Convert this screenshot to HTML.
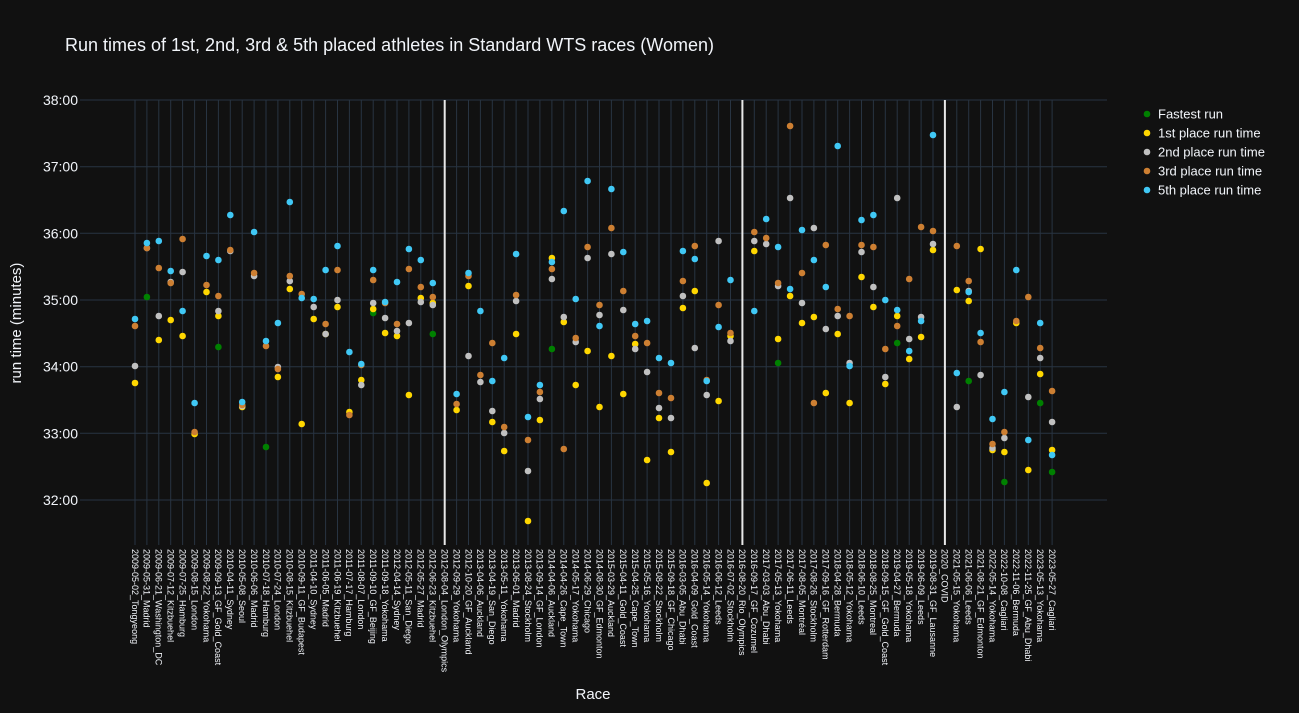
<!DOCTYPE html>
<html><head><meta charset="utf-8"><style>
html,body{margin:0;padding:0;background:#111111;}
svg{display:block;font-family:"Liberation Sans",sans-serif;}
.g circle{fill:#008000}.y circle{fill:#ffd700}.s circle{fill:#c0c0c0}.o circle{fill:#cd7f32}.b circle{fill:#40c8f5}
</style></head><body>
<svg width="1299" height="713" viewBox="0 0 1299 713" xmlns="http://www.w3.org/2000/svg">
<rect width="1299" height="713" fill="#111111"/>
<text x="65" y="51" fill="#f2f5fa" font-size="18">Run times of 1st, 2nd, 3rd &amp; 5th placed athletes in Standard WTS races (Women)</text>
<g stroke="#283442" stroke-width="1">
<line x1="80" x2="1107" y1="100" y2="100"/><line x1="80" x2="1107" y1="166.7" y2="166.7"/><line x1="80" x2="1107" y1="233.3" y2="233.3"/><line x1="80" x2="1107" y1="300" y2="300"/><line x1="80" x2="1107" y1="366.7" y2="366.7"/><line x1="80" x2="1107" y1="433.3" y2="433.3"/><line x1="80" x2="1107" y1="500" y2="500"/>
</g>
<g stroke="#283442" stroke-width="1" id="vg">
<line x1="135" x2="135" y1="100" y2="545"/><line x1="146.9" x2="146.9" y1="100" y2="545"/><line x1="158.8" x2="158.8" y1="100" y2="545"/><line x1="170.7" x2="170.7" y1="100" y2="545"/><line x1="182.6" x2="182.6" y1="100" y2="545"/><line x1="194.6" x2="194.6" y1="100" y2="545"/><line x1="206.5" x2="206.5" y1="100" y2="545"/><line x1="218.4" x2="218.4" y1="100" y2="545"/><line x1="230.3" x2="230.3" y1="100" y2="545"/><line x1="242.2" x2="242.2" y1="100" y2="545"/><line x1="254.1" x2="254.1" y1="100" y2="545"/><line x1="266" x2="266" y1="100" y2="545"/><line x1="277.9" x2="277.9" y1="100" y2="545"/><line x1="289.8" x2="289.8" y1="100" y2="545"/><line x1="301.7" x2="301.7" y1="100" y2="545"/><line x1="313.7" x2="313.7" y1="100" y2="545"/><line x1="325.6" x2="325.6" y1="100" y2="545"/><line x1="337.5" x2="337.5" y1="100" y2="545"/><line x1="349.4" x2="349.4" y1="100" y2="545"/><line x1="361.3" x2="361.3" y1="100" y2="545"/><line x1="373.2" x2="373.2" y1="100" y2="545"/><line x1="385.1" x2="385.1" y1="100" y2="545"/><line x1="397" x2="397" y1="100" y2="545"/><line x1="408.9" x2="408.9" y1="100" y2="545"/><line x1="420.8" x2="420.8" y1="100" y2="545"/><line x1="432.8" x2="432.8" y1="100" y2="545"/><line x1="456.6" x2="456.6" y1="100" y2="545"/><line x1="468.5" x2="468.5" y1="100" y2="545"/><line x1="480.4" x2="480.4" y1="100" y2="545"/><line x1="492.3" x2="492.3" y1="100" y2="545"/><line x1="504.2" x2="504.2" y1="100" y2="545"/><line x1="516.1" x2="516.1" y1="100" y2="545"/><line x1="528" x2="528" y1="100" y2="545"/><line x1="539.9" x2="539.9" y1="100" y2="545"/><line x1="551.9" x2="551.9" y1="100" y2="545"/><line x1="563.8" x2="563.8" y1="100" y2="545"/><line x1="575.7" x2="575.7" y1="100" y2="545"/><line x1="587.6" x2="587.6" y1="100" y2="545"/><line x1="599.5" x2="599.5" y1="100" y2="545"/><line x1="611.4" x2="611.4" y1="100" y2="545"/><line x1="623.3" x2="623.3" y1="100" y2="545"/><line x1="635.2" x2="635.2" y1="100" y2="545"/><line x1="647.1" x2="647.1" y1="100" y2="545"/><line x1="659" x2="659" y1="100" y2="545"/><line x1="671" x2="671" y1="100" y2="545"/><line x1="682.9" x2="682.9" y1="100" y2="545"/><line x1="694.8" x2="694.8" y1="100" y2="545"/><line x1="706.7" x2="706.7" y1="100" y2="545"/><line x1="718.6" x2="718.6" y1="100" y2="545"/><line x1="730.5" x2="730.5" y1="100" y2="545"/><line x1="754.3" x2="754.3" y1="100" y2="545"/><line x1="766.2" x2="766.2" y1="100" y2="545"/><line x1="778.1" x2="778.1" y1="100" y2="545"/><line x1="790.1" x2="790.1" y1="100" y2="545"/><line x1="802" x2="802" y1="100" y2="545"/><line x1="813.9" x2="813.9" y1="100" y2="545"/><line x1="825.8" x2="825.8" y1="100" y2="545"/><line x1="837.7" x2="837.7" y1="100" y2="545"/><line x1="849.6" x2="849.6" y1="100" y2="545"/><line x1="861.5" x2="861.5" y1="100" y2="545"/><line x1="873.4" x2="873.4" y1="100" y2="545"/><line x1="885.3" x2="885.3" y1="100" y2="545"/><line x1="897.2" x2="897.2" y1="100" y2="545"/><line x1="909.2" x2="909.2" y1="100" y2="545"/><line x1="921.1" x2="921.1" y1="100" y2="545"/><line x1="933" x2="933" y1="100" y2="545"/><line x1="956.8" x2="956.8" y1="100" y2="545"/><line x1="968.7" x2="968.7" y1="100" y2="545"/><line x1="980.6" x2="980.6" y1="100" y2="545"/><line x1="992.5" x2="992.5" y1="100" y2="545"/><line x1="1004.4" x2="1004.4" y1="100" y2="545"/><line x1="1016.3" x2="1016.3" y1="100" y2="545"/><line x1="1028.3" x2="1028.3" y1="100" y2="545"/><line x1="1040.2" x2="1040.2" y1="100" y2="545"/><line x1="1052.1" x2="1052.1" y1="100" y2="545"/>
</g>
<g stroke="#e8e8e8" stroke-width="2"><line x1="444.7" x2="444.7" y1="100" y2="545"/><line x1="742.4" x2="742.4" y1="100" y2="545"/><line x1="944.9" x2="944.9" y1="100" y2="545"/></g>
<g fill="#f2f5fa" font-size="14" text-anchor="end">
<text x="78" y="105">38:00</text><text x="78" y="171.7">37:00</text><text x="78" y="238.3">36:00</text><text x="78" y="305">35:00</text><text x="78" y="371.7">34:00</text><text x="78" y="438.3">33:00</text><text x="78" y="505">32:00</text>
</g>
<text transform="translate(21,323) rotate(-90)" fill="#f2f5fa" font-size="15" text-anchor="middle">run time (minutes)</text>
<text x="593" y="699" fill="#f2f5fa" font-size="15" text-anchor="middle">Race</text>
<g class="g" r="3.3">
<circle cx="146.9" cy="297" r="3.3"/><circle cx="218.4" cy="347" r="3.3"/><circle cx="266" cy="447" r="3.3"/><circle cx="373.2" cy="313" r="3.3"/><circle cx="432.8" cy="334" r="3.3"/><circle cx="551.9" cy="349" r="3.3"/><circle cx="778.1" cy="363" r="3.3"/><circle cx="897.2" cy="343" r="3.3"/><circle cx="968.7" cy="381" r="3.3"/><circle cx="1004.4" cy="482" r="3.3"/><circle cx="1040.2" cy="403" r="3.3"/><circle cx="1052.1" cy="472" r="3.3"/>
</g>
<g class="y">
<circle cx="135" cy="383" r="3.3"/><circle cx="158.8" cy="340" r="3.3"/><circle cx="170.7" cy="320" r="3.3"/><circle cx="182.6" cy="336" r="3.3"/><circle cx="194.6" cy="434" r="3.3"/><circle cx="206.5" cy="292" r="3.3"/><circle cx="218.4" cy="316" r="3.3"/><circle cx="242.2" cy="407" r="3.3"/><circle cx="277.9" cy="377" r="3.3"/><circle cx="289.8" cy="289" r="3.3"/><circle cx="301.7" cy="424" r="3.3"/><circle cx="313.7" cy="319" r="3.3"/><circle cx="325.6" cy="334" r="3.3"/><circle cx="337.5" cy="307" r="3.3"/><circle cx="349.4" cy="412" r="3.3"/><circle cx="361.3" cy="380" r="3.3"/><circle cx="373.2" cy="309" r="3.3"/><circle cx="385.1" cy="333" r="3.3"/><circle cx="397" cy="336" r="3.3"/><circle cx="408.9" cy="395" r="3.3"/><circle cx="420.8" cy="298" r="3.3"/><circle cx="432.8" cy="303" r="3.3"/><circle cx="456.6" cy="410" r="3.3"/><circle cx="468.5" cy="286" r="3.3"/><circle cx="492.3" cy="422" r="3.3"/><circle cx="504.2" cy="451" r="3.3"/><circle cx="516.1" cy="334" r="3.3"/><circle cx="528" cy="521" r="3.3"/><circle cx="539.9" cy="420" r="3.3"/><circle cx="551.9" cy="258" r="3.3"/><circle cx="563.8" cy="322" r="3.3"/><circle cx="575.7" cy="385" r="3.3"/><circle cx="587.6" cy="351" r="3.3"/><circle cx="599.5" cy="407" r="3.3"/><circle cx="611.4" cy="356" r="3.3"/><circle cx="623.3" cy="394" r="3.3"/><circle cx="635.2" cy="344" r="3.3"/><circle cx="647.1" cy="460" r="3.3"/><circle cx="659" cy="418" r="3.3"/><circle cx="671" cy="452" r="3.3"/><circle cx="682.9" cy="308" r="3.3"/><circle cx="694.8" cy="291" r="3.3"/><circle cx="706.7" cy="483" r="3.3"/><circle cx="718.6" cy="401" r="3.3"/><circle cx="730.5" cy="336" r="3.3"/><circle cx="754.3" cy="251" r="3.3"/><circle cx="778.1" cy="339" r="3.3"/><circle cx="790.1" cy="296" r="3.3"/><circle cx="802" cy="323" r="3.3"/><circle cx="813.9" cy="317" r="3.3"/><circle cx="825.8" cy="393" r="3.3"/><circle cx="837.7" cy="334" r="3.3"/><circle cx="849.6" cy="403" r="3.3"/><circle cx="861.5" cy="277" r="3.3"/><circle cx="873.4" cy="307" r="3.3"/><circle cx="885.3" cy="384" r="3.3"/><circle cx="897.2" cy="316" r="3.3"/><circle cx="909.2" cy="359" r="3.3"/><circle cx="921.1" cy="337" r="3.3"/><circle cx="933" cy="250" r="3.3"/><circle cx="956.8" cy="290" r="3.3"/><circle cx="968.7" cy="301" r="3.3"/><circle cx="980.6" cy="249" r="3.3"/><circle cx="992.5" cy="450" r="3.3"/><circle cx="1004.4" cy="452" r="3.3"/><circle cx="1016.3" cy="323" r="3.3"/><circle cx="1028.3" cy="470" r="3.3"/><circle cx="1040.2" cy="374" r="3.3"/><circle cx="1052.1" cy="450" r="3.3"/>
</g>
<g class="s">
<circle cx="135" cy="366" r="3.3"/><circle cx="146.9" cy="248" r="3.3"/><circle cx="158.8" cy="316" r="3.3"/><circle cx="170.7" cy="282" r="3.3"/><circle cx="182.6" cy="272" r="3.3"/><circle cx="218.4" cy="311" r="3.3"/><circle cx="230.3" cy="251" r="3.3"/><circle cx="242.2" cy="406" r="3.3"/><circle cx="254.1" cy="276" r="3.3"/><circle cx="277.9" cy="367" r="3.3"/><circle cx="289.8" cy="281" r="3.3"/><circle cx="313.7" cy="307" r="3.3"/><circle cx="325.6" cy="334" r="3.3"/><circle cx="337.5" cy="300" r="3.3"/><circle cx="361.3" cy="385" r="3.3"/><circle cx="373.2" cy="303" r="3.3"/><circle cx="385.1" cy="318" r="3.3"/><circle cx="397" cy="331" r="3.3"/><circle cx="408.9" cy="323" r="3.3"/><circle cx="420.8" cy="302" r="3.3"/><circle cx="432.8" cy="305" r="3.3"/><circle cx="468.5" cy="356" r="3.3"/><circle cx="480.4" cy="382" r="3.3"/><circle cx="492.3" cy="411" r="3.3"/><circle cx="504.2" cy="433" r="3.3"/><circle cx="516.1" cy="301" r="3.3"/><circle cx="528" cy="471" r="3.3"/><circle cx="539.9" cy="399" r="3.3"/><circle cx="551.9" cy="279" r="3.3"/><circle cx="563.8" cy="317" r="3.3"/><circle cx="575.7" cy="342" r="3.3"/><circle cx="587.6" cy="258" r="3.3"/><circle cx="599.5" cy="315" r="3.3"/><circle cx="611.4" cy="254" r="3.3"/><circle cx="623.3" cy="310" r="3.3"/><circle cx="635.2" cy="349" r="3.3"/><circle cx="647.1" cy="372" r="3.3"/><circle cx="659" cy="408" r="3.3"/><circle cx="671" cy="418" r="3.3"/><circle cx="682.9" cy="296" r="3.3"/><circle cx="694.8" cy="348" r="3.3"/><circle cx="706.7" cy="395" r="3.3"/><circle cx="718.6" cy="241" r="3.3"/><circle cx="730.5" cy="341" r="3.3"/><circle cx="754.3" cy="241" r="3.3"/><circle cx="766.2" cy="244" r="3.3"/><circle cx="778.1" cy="286" r="3.3"/><circle cx="790.1" cy="198" r="3.3"/><circle cx="802" cy="303" r="3.3"/><circle cx="813.9" cy="228" r="3.3"/><circle cx="825.8" cy="329" r="3.3"/><circle cx="837.7" cy="316" r="3.3"/><circle cx="849.6" cy="363" r="3.3"/><circle cx="861.5" cy="252" r="3.3"/><circle cx="873.4" cy="287" r="3.3"/><circle cx="885.3" cy="377" r="3.3"/><circle cx="897.2" cy="198" r="3.3"/><circle cx="909.2" cy="339" r="3.3"/><circle cx="921.1" cy="317" r="3.3"/><circle cx="933" cy="244" r="3.3"/><circle cx="956.8" cy="407" r="3.3"/><circle cx="968.7" cy="291" r="3.3"/><circle cx="980.6" cy="375" r="3.3"/><circle cx="992.5" cy="448" r="3.3"/><circle cx="1004.4" cy="438" r="3.3"/><circle cx="1028.3" cy="397" r="3.3"/><circle cx="1040.2" cy="358" r="3.3"/><circle cx="1052.1" cy="422" r="3.3"/>
</g>
<g class="o">
<circle cx="135" cy="326" r="3.3"/><circle cx="146.9" cy="248" r="3.3"/><circle cx="158.8" cy="268" r="3.3"/><circle cx="170.7" cy="283" r="3.3"/><circle cx="182.6" cy="239" r="3.3"/><circle cx="194.6" cy="432" r="3.3"/><circle cx="206.5" cy="285" r="3.3"/><circle cx="218.4" cy="296" r="3.3"/><circle cx="230.3" cy="250" r="3.3"/><circle cx="242.2" cy="405" r="3.3"/><circle cx="254.1" cy="273" r="3.3"/><circle cx="266" cy="346" r="3.3"/><circle cx="277.9" cy="369" r="3.3"/><circle cx="289.8" cy="276" r="3.3"/><circle cx="301.7" cy="294" r="3.3"/><circle cx="325.6" cy="324" r="3.3"/><circle cx="337.5" cy="270" r="3.3"/><circle cx="349.4" cy="415" r="3.3"/><circle cx="361.3" cy="365" r="3.3"/><circle cx="373.2" cy="280" r="3.3"/><circle cx="385.1" cy="303" r="3.3"/><circle cx="397" cy="324" r="3.3"/><circle cx="408.9" cy="269" r="3.3"/><circle cx="420.8" cy="287" r="3.3"/><circle cx="432.8" cy="297" r="3.3"/><circle cx="456.6" cy="404" r="3.3"/><circle cx="468.5" cy="276" r="3.3"/><circle cx="480.4" cy="375" r="3.3"/><circle cx="492.3" cy="343" r="3.3"/><circle cx="504.2" cy="427" r="3.3"/><circle cx="516.1" cy="295" r="3.3"/><circle cx="528" cy="440" r="3.3"/><circle cx="539.9" cy="392" r="3.3"/><circle cx="551.9" cy="269" r="3.3"/><circle cx="563.8" cy="449" r="3.3"/><circle cx="575.7" cy="338" r="3.3"/><circle cx="587.6" cy="247" r="3.3"/><circle cx="599.5" cy="305" r="3.3"/><circle cx="611.4" cy="228" r="3.3"/><circle cx="623.3" cy="291" r="3.3"/><circle cx="635.2" cy="336" r="3.3"/><circle cx="647.1" cy="343" r="3.3"/><circle cx="659" cy="393" r="3.3"/><circle cx="671" cy="398" r="3.3"/><circle cx="682.9" cy="281" r="3.3"/><circle cx="694.8" cy="246" r="3.3"/><circle cx="706.7" cy="380" r="3.3"/><circle cx="718.6" cy="305" r="3.3"/><circle cx="730.5" cy="333" r="3.3"/><circle cx="754.3" cy="232" r="3.3"/><circle cx="766.2" cy="238" r="3.3"/><circle cx="778.1" cy="283" r="3.3"/><circle cx="790.1" cy="126" r="3.3"/><circle cx="802" cy="273" r="3.3"/><circle cx="813.9" cy="403" r="3.3"/><circle cx="825.8" cy="245" r="3.3"/><circle cx="837.7" cy="309" r="3.3"/><circle cx="849.6" cy="316" r="3.3"/><circle cx="861.5" cy="245" r="3.3"/><circle cx="873.4" cy="247" r="3.3"/><circle cx="885.3" cy="349" r="3.3"/><circle cx="897.2" cy="326" r="3.3"/><circle cx="909.2" cy="279" r="3.3"/><circle cx="921.1" cy="227" r="3.3"/><circle cx="933" cy="231" r="3.3"/><circle cx="956.8" cy="246" r="3.3"/><circle cx="968.7" cy="281" r="3.3"/><circle cx="980.6" cy="342" r="3.3"/><circle cx="992.5" cy="444" r="3.3"/><circle cx="1004.4" cy="432" r="3.3"/><circle cx="1016.3" cy="321" r="3.3"/><circle cx="1028.3" cy="297" r="3.3"/><circle cx="1040.2" cy="348" r="3.3"/><circle cx="1052.1" cy="391" r="3.3"/>
</g>
<g class="b">
<circle cx="135" cy="319" r="3.3"/><circle cx="146.9" cy="243" r="3.3"/><circle cx="158.8" cy="241" r="3.3"/><circle cx="170.7" cy="271" r="3.3"/><circle cx="182.6" cy="311" r="3.3"/><circle cx="194.6" cy="403" r="3.3"/><circle cx="206.5" cy="256" r="3.3"/><circle cx="218.4" cy="260" r="3.3"/><circle cx="230.3" cy="215" r="3.3"/><circle cx="242.2" cy="402" r="3.3"/><circle cx="254.1" cy="232" r="3.3"/><circle cx="266" cy="341" r="3.3"/><circle cx="277.9" cy="323" r="3.3"/><circle cx="289.8" cy="202" r="3.3"/><circle cx="301.7" cy="298" r="3.3"/><circle cx="313.7" cy="299" r="3.3"/><circle cx="325.6" cy="270" r="3.3"/><circle cx="337.5" cy="246" r="3.3"/><circle cx="349.4" cy="352" r="3.3"/><circle cx="361.3" cy="364" r="3.3"/><circle cx="373.2" cy="270" r="3.3"/><circle cx="385.1" cy="302" r="3.3"/><circle cx="397" cy="282" r="3.3"/><circle cx="408.9" cy="249" r="3.3"/><circle cx="420.8" cy="260" r="3.3"/><circle cx="432.8" cy="283" r="3.3"/><circle cx="456.6" cy="394" r="3.3"/><circle cx="468.5" cy="273" r="3.3"/><circle cx="480.4" cy="311" r="3.3"/><circle cx="492.3" cy="381" r="3.3"/><circle cx="504.2" cy="358" r="3.3"/><circle cx="516.1" cy="254" r="3.3"/><circle cx="528" cy="417" r="3.3"/><circle cx="539.9" cy="385" r="3.3"/><circle cx="551.9" cy="262" r="3.3"/><circle cx="563.8" cy="211" r="3.3"/><circle cx="575.7" cy="299" r="3.3"/><circle cx="587.6" cy="181" r="3.3"/><circle cx="599.5" cy="326" r="3.3"/><circle cx="611.4" cy="189" r="3.3"/><circle cx="623.3" cy="252" r="3.3"/><circle cx="635.2" cy="324" r="3.3"/><circle cx="647.1" cy="321" r="3.3"/><circle cx="659" cy="358" r="3.3"/><circle cx="671" cy="363" r="3.3"/><circle cx="682.9" cy="251" r="3.3"/><circle cx="694.8" cy="259" r="3.3"/><circle cx="706.7" cy="381" r="3.3"/><circle cx="718.6" cy="327" r="3.3"/><circle cx="730.5" cy="280" r="3.3"/><circle cx="754.3" cy="311" r="3.3"/><circle cx="766.2" cy="219" r="3.3"/><circle cx="778.1" cy="247" r="3.3"/><circle cx="790.1" cy="289" r="3.3"/><circle cx="802" cy="230" r="3.3"/><circle cx="813.9" cy="260" r="3.3"/><circle cx="825.8" cy="287" r="3.3"/><circle cx="837.7" cy="146" r="3.3"/><circle cx="849.6" cy="366" r="3.3"/><circle cx="861.5" cy="220" r="3.3"/><circle cx="873.4" cy="215" r="3.3"/><circle cx="885.3" cy="300" r="3.3"/><circle cx="897.2" cy="310" r="3.3"/><circle cx="909.2" cy="351" r="3.3"/><circle cx="921.1" cy="321" r="3.3"/><circle cx="933" cy="135" r="3.3"/><circle cx="956.8" cy="373" r="3.3"/><circle cx="968.7" cy="292" r="3.3"/><circle cx="980.6" cy="333" r="3.3"/><circle cx="992.5" cy="419" r="3.3"/><circle cx="1004.4" cy="392" r="3.3"/><circle cx="1016.3" cy="270" r="3.3"/><circle cx="1028.3" cy="440" r="3.3"/><circle cx="1040.2" cy="323" r="3.3"/><circle cx="1052.1" cy="455" r="3.3"/>
</g>
<g fill="#f2f5fa" font-size="13">
<circle cx="1147" cy="114" r="3.3" fill="#008000"/><text x="1158" y="118.5">Fastest run</text>
<circle cx="1147" cy="133" r="3.3" fill="#ffd700"/><text x="1158" y="137.5">1st place run time</text>
<circle cx="1147" cy="152" r="3.3" fill="#c0c0c0"/><text x="1158" y="156.5">2nd place run time</text>
<circle cx="1147" cy="171" r="3.3" fill="#cd7f32"/><text x="1158" y="175.5">3rd place run time</text>
<circle cx="1147" cy="190" r="3.3" fill="#40c8f5"/><text x="1158" y="194.5">5th place run time</text>
</g>
<g fill="#f2f5fa" font-size="9">
<text transform="translate(135,549) rotate(90)" dy="0.35em">2009-05-02_Tongyeong</text>
<text transform="translate(146.9,549) rotate(90)" dy="0.35em">2009-05-31_Madrid</text>
<text transform="translate(158.8,549) rotate(90)" dy="0.35em">2009-06-21_Washington_DC</text>
<text transform="translate(170.7,549) rotate(90)" dy="0.35em">2009-07-12_Kitzbuehel</text>
<text transform="translate(182.6,549) rotate(90)" dy="0.35em">2009-07-25_Hamburg</text>
<text transform="translate(194.6,549) rotate(90)" dy="0.35em">2009-08-15_London</text>
<text transform="translate(206.5,549) rotate(90)" dy="0.35em">2009-08-22_Yokohama</text>
<text transform="translate(218.4,549) rotate(90)" dy="0.35em">2009-09-13_GF_Gold_Coast</text>
<text transform="translate(230.3,549) rotate(90)" dy="0.35em">2010-04-11_Sydney</text>
<text transform="translate(242.2,549) rotate(90)" dy="0.35em">2010-05-08_Seoul</text>
<text transform="translate(254.1,549) rotate(90)" dy="0.35em">2010-06-06_Madrid</text>
<text transform="translate(266,549) rotate(90)" dy="0.35em">2010-07-18_Hamburg</text>
<text transform="translate(277.9,549) rotate(90)" dy="0.35em">2010-07-24_London</text>
<text transform="translate(289.8,549) rotate(90)" dy="0.35em">2010-08-15_Kitzbuehel</text>
<text transform="translate(301.7,549) rotate(90)" dy="0.35em">2010-09-11_GF_Budapest</text>
<text transform="translate(313.7,549) rotate(90)" dy="0.35em">2011-04-10_Sydney</text>
<text transform="translate(325.6,549) rotate(90)" dy="0.35em">2011-06-05_Madrid</text>
<text transform="translate(337.5,549) rotate(90)" dy="0.35em">2011-06-19_Kitzbuehel</text>
<text transform="translate(349.4,549) rotate(90)" dy="0.35em">2011-07-17_Hamburg</text>
<text transform="translate(361.3,549) rotate(90)" dy="0.35em">2011-08-07_London</text>
<text transform="translate(373.2,549) rotate(90)" dy="0.35em">2011-09-10_GF_Beijing</text>
<text transform="translate(385.1,549) rotate(90)" dy="0.35em">2011-09-18_Yokohama</text>
<text transform="translate(397,549) rotate(90)" dy="0.35em">2012-04-14_Sydney</text>
<text transform="translate(408.9,549) rotate(90)" dy="0.35em">2012-05-11_San_Diego</text>
<text transform="translate(420.8,549) rotate(90)" dy="0.35em">2012-05-27_Madrid</text>
<text transform="translate(432.8,549) rotate(90)" dy="0.35em">2012-06-23_Kitzbuehel</text>
<text transform="translate(444.7,549) rotate(90)" dy="0.35em">2012-08-04_London_Olympics</text>
<text transform="translate(456.6,549) rotate(90)" dy="0.35em">2012-09-29_Yokohama</text>
<text transform="translate(468.5,549) rotate(90)" dy="0.35em">2012-10-20_GF_Auckland</text>
<text transform="translate(480.4,549) rotate(90)" dy="0.35em">2013-04-06_Auckland</text>
<text transform="translate(492.3,549) rotate(90)" dy="0.35em">2013-04-19_San_Diego</text>
<text transform="translate(504.2,549) rotate(90)" dy="0.35em">2013-05-11_Yokohama</text>
<text transform="translate(516.1,549) rotate(90)" dy="0.35em">2013-06-01_Madrid</text>
<text transform="translate(528,549) rotate(90)" dy="0.35em">2013-08-24_Stockholm</text>
<text transform="translate(539.9,549) rotate(90)" dy="0.35em">2013-09-14_GF_London</text>
<text transform="translate(551.9,549) rotate(90)" dy="0.35em">2014-04-06_Auckland</text>
<text transform="translate(563.8,549) rotate(90)" dy="0.35em">2014-04-26_Cape_Town</text>
<text transform="translate(575.7,549) rotate(90)" dy="0.35em">2014-05-17_Yokohama</text>
<text transform="translate(587.6,549) rotate(90)" dy="0.35em">2014-06-29_Chicago</text>
<text transform="translate(599.5,549) rotate(90)" dy="0.35em">2014-08-30_GF_Edmonton</text>
<text transform="translate(611.4,549) rotate(90)" dy="0.35em">2015-03-29_Auckland</text>
<text transform="translate(623.3,549) rotate(90)" dy="0.35em">2015-04-11_Gold_Coast</text>
<text transform="translate(635.2,549) rotate(90)" dy="0.35em">2015-04-25_Cape_Town</text>
<text transform="translate(647.1,549) rotate(90)" dy="0.35em">2015-05-16_Yokohama</text>
<text transform="translate(659,549) rotate(90)" dy="0.35em">2015-08-22_Stockholm</text>
<text transform="translate(671,549) rotate(90)" dy="0.35em">2015-09-18_GF_Chicago</text>
<text transform="translate(682.9,549) rotate(90)" dy="0.35em">2016-03-05_Abu_Dhabi</text>
<text transform="translate(694.8,549) rotate(90)" dy="0.35em">2016-04-09_Gold_Coast</text>
<text transform="translate(706.7,549) rotate(90)" dy="0.35em">2016-05-14_Yokohama</text>
<text transform="translate(718.6,549) rotate(90)" dy="0.35em">2016-06-12_Leeds</text>
<text transform="translate(730.5,549) rotate(90)" dy="0.35em">2016-07-02_Stockholm</text>
<text transform="translate(742.4,549) rotate(90)" dy="0.35em">2016-08-20_Rio_Olympics</text>
<text transform="translate(754.3,549) rotate(90)" dy="0.35em">2016-09-17_GF_Cozumel</text>
<text transform="translate(766.2,549) rotate(90)" dy="0.35em">2017-03-03_Abu_Dhabi</text>
<text transform="translate(778.1,549) rotate(90)" dy="0.35em">2017-05-13_Yokohama</text>
<text transform="translate(790.1,549) rotate(90)" dy="0.35em">2017-06-11_Leeds</text>
<text transform="translate(802,549) rotate(90)" dy="0.35em">2017-08-05_Montréal</text>
<text transform="translate(813.9,549) rotate(90)" dy="0.35em">2017-08-26_Stockholm</text>
<text transform="translate(825.8,549) rotate(90)" dy="0.35em">2017-09-16_GF_Rotterdam</text>
<text transform="translate(837.7,549) rotate(90)" dy="0.35em">2018-04-28_Bermuda</text>
<text transform="translate(849.6,549) rotate(90)" dy="0.35em">2018-05-12_Yokohama</text>
<text transform="translate(861.5,549) rotate(90)" dy="0.35em">2018-06-10_Leeds</text>
<text transform="translate(873.4,549) rotate(90)" dy="0.35em">2018-08-25_Montreal</text>
<text transform="translate(885.3,549) rotate(90)" dy="0.35em">2018-09-15_GF_Gold_Coast</text>
<text transform="translate(897.2,549) rotate(90)" dy="0.35em">2019-04-27_Bermuda</text>
<text transform="translate(909.2,549) rotate(90)" dy="0.35em">2019-05-18_Yokohama</text>
<text transform="translate(921.1,549) rotate(90)" dy="0.35em">2019-06-09_Leeds</text>
<text transform="translate(933,549) rotate(90)" dy="0.35em">2019-08-31_GF_Lausanne</text>
<text transform="translate(944.9,549) rotate(90)" dy="0.35em">2020_COVID</text>
<text transform="translate(956.8,549) rotate(90)" dy="0.35em">2021-05-15_Yokohama</text>
<text transform="translate(968.7,549) rotate(90)" dy="0.35em">2021-06-06_Leeds</text>
<text transform="translate(980.6,549) rotate(90)" dy="0.35em">2021-08-21_GF_Edmonton</text>
<text transform="translate(992.5,549) rotate(90)" dy="0.35em">2022-05-14_Yokohama</text>
<text transform="translate(1004.4,549) rotate(90)" dy="0.35em">2022-10-08_Cagliari</text>
<text transform="translate(1016.3,549) rotate(90)" dy="0.35em">2022-11-06_Bermuda</text>
<text transform="translate(1028.3,549) rotate(90)" dy="0.35em">2022-11-25_GF_Abu_Dhabi</text>
<text transform="translate(1040.2,549) rotate(90)" dy="0.35em">2023-05-13_Yokohama</text>
<text transform="translate(1052.1,549) rotate(90)" dy="0.35em">2023-05-27_Cagliari</text>
</g>
</svg>
</body></html>
